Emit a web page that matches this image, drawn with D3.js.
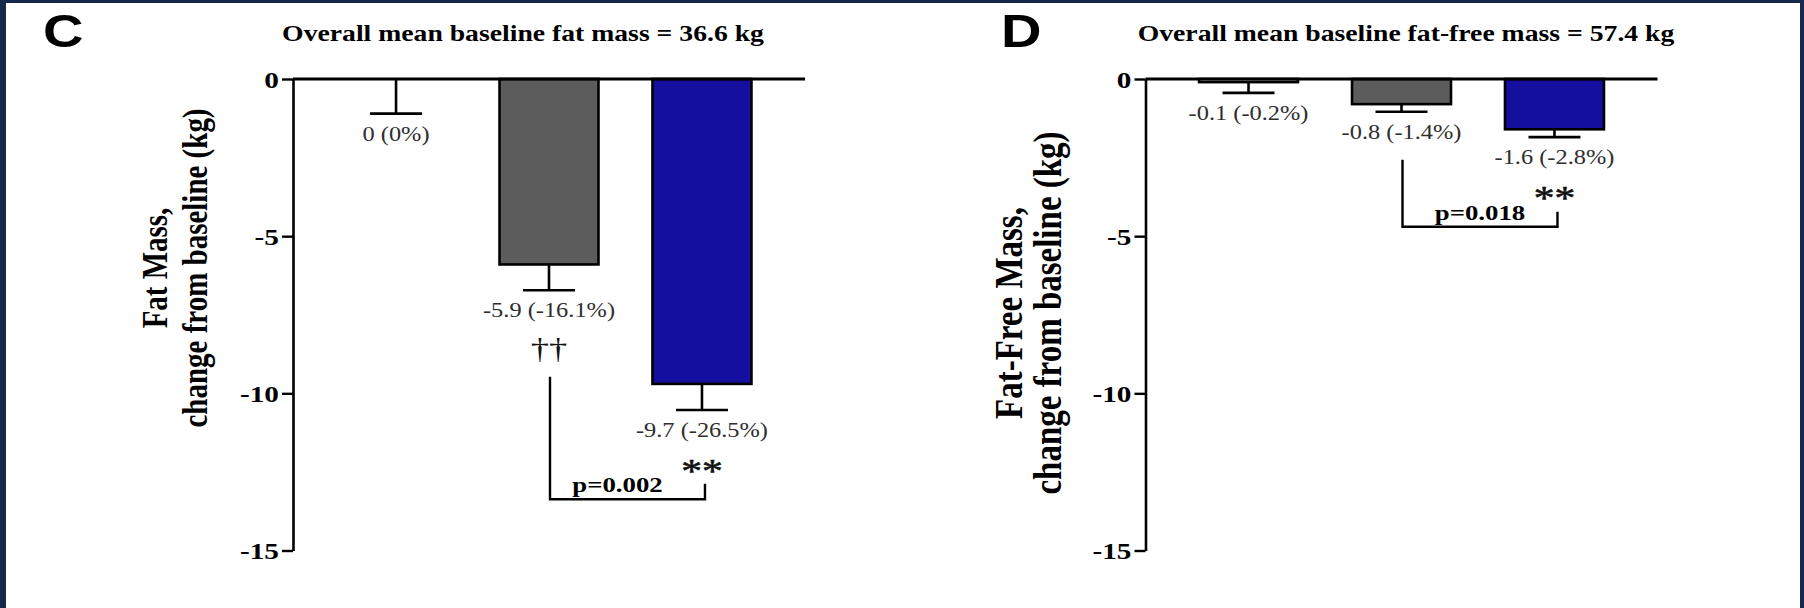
<!DOCTYPE html>
<html>
<head>
<meta charset="utf-8">
<script src="https://cdn.jsdelivr.net/npm/d3@7"></script>
<style>
  html, body { margin: 0; padding: 0; background: #17294b; }
  svg { display: block; }
</style>
</head>
<body>
<svg id="chart" width="1804" height="608"></svg>
<script>
/* groups (no x labels in the figure) and their bar colours */
const groups = ["Group 1", "Group 2", "Group 3"];
const barFill = ["#ffffff", "#5c5c5c", "#150f9f"];
const yTicks = [0, -5, -10, -15];

/* panel C: fat mass, change from baseline (kg) */
const fatMean = [0, -5.9, -9.7];
const fatSE = [1.1, 0.82, 0.83];
const fatLabels = ["0 (0%)", "-5.9 (-16.1%)", "-9.7 (-26.5%)"];
const fatMarks = ["", "\u2020\u2020", "**"];
/* bracket: from group, to group, text, left top, right top, bottom (kg) */
const fatBracket = [1, 2, "p=0.002", -9.47, -12.88, -13.37];

/* panel D: fat-free mass, change from baseline (kg) */
const ffmMean = [-0.1, -0.8, -1.6];
const ffmSE = [0.34, 0.24, 0.25];
const ffmLabels = ["-0.1 (-0.2%)", "-0.8 (-1.4%)", "-1.6 (-2.8%)"];
const ffmMarks = ["", "", "**"];
const ffmBracket = [1, 2, "p=0.018", -2.57, -4.22, -4.7];

/* the source picture is stretched sideways, text gets the same stretch */
const SX = 1.22;
const serif = "'Liberation Serif', 'Times New Roman', serif";
const sans = "'Liberation Sans', Arial, sans-serif";

const svg = d3.select("#chart");

/* white page with the dark frame showing at top/left/right */
svg.append("rect")
    .attr("x", 6).attr("y", 3)
    .attr("width", 1794).attr("height", 605)
    .attr("fill", "#ffffff");

const yScale = d3.scaleLinear().domain([0, -15]).range([79, 550.5]);
const xScale = d3.scaleBand().domain(groups).range([0, 512])
    .paddingInner(0.353).paddingOuter(0.35);

function stretch(sel, x, y, extra){
    return sel.attr("transform", "translate(" + x + "," + y + ") scale(" + SX + ",1)" + (extra || ""));
}

function drawPanel(p){
    const g = svg.append("g").attr("transform", "translate(" + p.axisX + ",0)");

    /* panel letter */
    stretch(svg.append("text"), p.letterX, 47)
        .attr("font-family", sans).attr("font-weight", "bold")
        .attr("font-size", 46).text(p.letter);

    /* title */
    stretch(svg.append("text"), p.titleX, 41)
        .attr("text-anchor", "middle")
        .attr("font-family", serif).attr("font-weight", "bold")
        .attr("font-size", 22.7).text(p.title);

    /* y axis title, two rotated lines */
    p.yTitle.forEach((line, i) => {
        stretch(svg.append("text"), p.yTitleX[i], p.yTitleY, " rotate(-90)")
            .attr("text-anchor", "middle")
            .attr("font-family", serif).attr("font-weight", "bold")
            .attr("font-size", p.yTitleSize).text(line);
    });

    /* y axis */
    const axis = g.append("g")
        .call(d3.axisLeft(yScale).tickValues(yTicks).tickSize(11).tickSizeOuter(0)
            .tickFormat(d => String(d)));
    axis.select(".domain").attr("stroke", "#000").attr("stroke-width", 2.6);
    axis.selectAll(".tick line").attr("stroke", "#000").attr("stroke-width", 2.4);
    axis.selectAll(".tick text")
        .attr("x", -14 / SX)
        .attr("dy", "0.34em")
        .attr("transform", "scale(" + SX + ",1)")
        .attr("fill", "#000")
        .attr("font-family", serif).attr("font-weight", "bold")
        .attr("font-size", 24);

    /* bars */
    g.selectAll("rect.bar")
        .data(groups)
        .enter()
        .append("rect")
        .attr("class", "bar")
        .attr("x", d => xScale(d))
        .attr("y", yScale(0))
        .attr("width", xScale.bandwidth())
        .attr("height", (d, i) => yScale(p.mean[i]) - yScale(0))
        .attr("fill", (d, i) => barFill[i])
        .attr("stroke", "#000")
        .attr("stroke-width", 2.6);

    /* zero line across the panel */
    g.append("line")
        .attr("x1", 0).attr("x2", xScale.range()[1])
        .attr("y1", yScale(0)).attr("y2", yScale(0))
        .attr("stroke", "#000").attr("stroke-width", 3);

    /* error bars, only the lower half */
    const cx = d => xScale(d) + xScale.bandwidth() / 2;
    const capHalf = 26;
    groups.forEach((d, i) => {
        const yBar = yScale(p.mean[i]);
        const yCap = yScale(p.mean[i] - p.se[i]);
        g.append("line")
            .attr("x1", cx(d)).attr("x2", cx(d))
            .attr("y1", yBar).attr("y2", yCap)
            .attr("stroke", "#000").attr("stroke-width", 2.6);
        g.append("line")
            .attr("x1", cx(d) - capHalf).attr("x2", cx(d) + capHalf)
            .attr("y1", yCap).attr("y2", yCap)
            .attr("stroke", "#000").attr("stroke-width", 2.6);

        /* value label under the cap */
        stretch(g.append("text"), cx(d), yCap + 27)
            .attr("text-anchor", "middle")
            .attr("font-family", serif).attr("font-size", 20)
            .attr("fill", "#2e2e2e").text(p.labels[i]);

        /* significance mark */
        if(p.marks[i]){
            const isStar = p.marks[i] === "**";
            stretch(g.append("text"), cx(d), yCap + (isStar ? 72 : 68))
                .attr("text-anchor", "middle")
                .attr("font-family", serif)
                .attr("font-size", isStar ? 34 : 30)
                .attr("stroke", "#111").attr("stroke-width", isStar ? 0.6 : 0)
                .attr("fill", "#111").text(p.marks[i]);
        }
    });

    /* comparison bracket */
    const b = p.bracket;
    const xl = cx(groups[b[0]]) + 1;
    const xr = cx(groups[b[1]]) + 3;
    g.append("path")
        .attr("d", "M" + xl + "," + yScale(b[3]) + "V" + yScale(b[5]) +
                   "H" + xr + "V" + yScale(b[4]))
        .attr("fill", "none").attr("stroke", "#000").attr("stroke-width", 2.4);
    stretch(g.append("text"), (xl + xr) / 2 + p.pShift, yScale(b[5]) - 7)
        .attr("text-anchor", "middle")
        .attr("font-family", serif).attr("font-weight", "bold")
        .attr("font-size", 22).text(b[2]);
}

drawPanel({
    axisX: 293,
    letter: "C", letterX: 43,
    title: "Overall mean baseline fat mass = 36.6 kg", titleX: 523,
    yTitle: ["Fat Mass,", "change from baseline (kg)"],
    yTitleX: [167, 207], yTitleY: 268, yTitleSize: 29,
    mean: fatMean, se: fatSE, labels: fatLabels, marks: fatMarks,
    bracket: fatBracket, pShift: -10
});

drawPanel({
    axisX: 1145.5,
    letter: "D", letterX: 1001,
    title: "Overall mean baseline fat-free mass = 57.4 kg", titleX: 1406,
    yTitle: ["Fat-Free Mass,", "change from baseline (kg)"],
    yTitleX: [1022, 1061], yTitleY: 313, yTitleSize: 33,
    mean: ffmMean, se: ffmSE, labels: ffmLabels, marks: ffmMarks,
    bracket: ffmBracket, pShift: 0
});
</script>
</body>
</html>
